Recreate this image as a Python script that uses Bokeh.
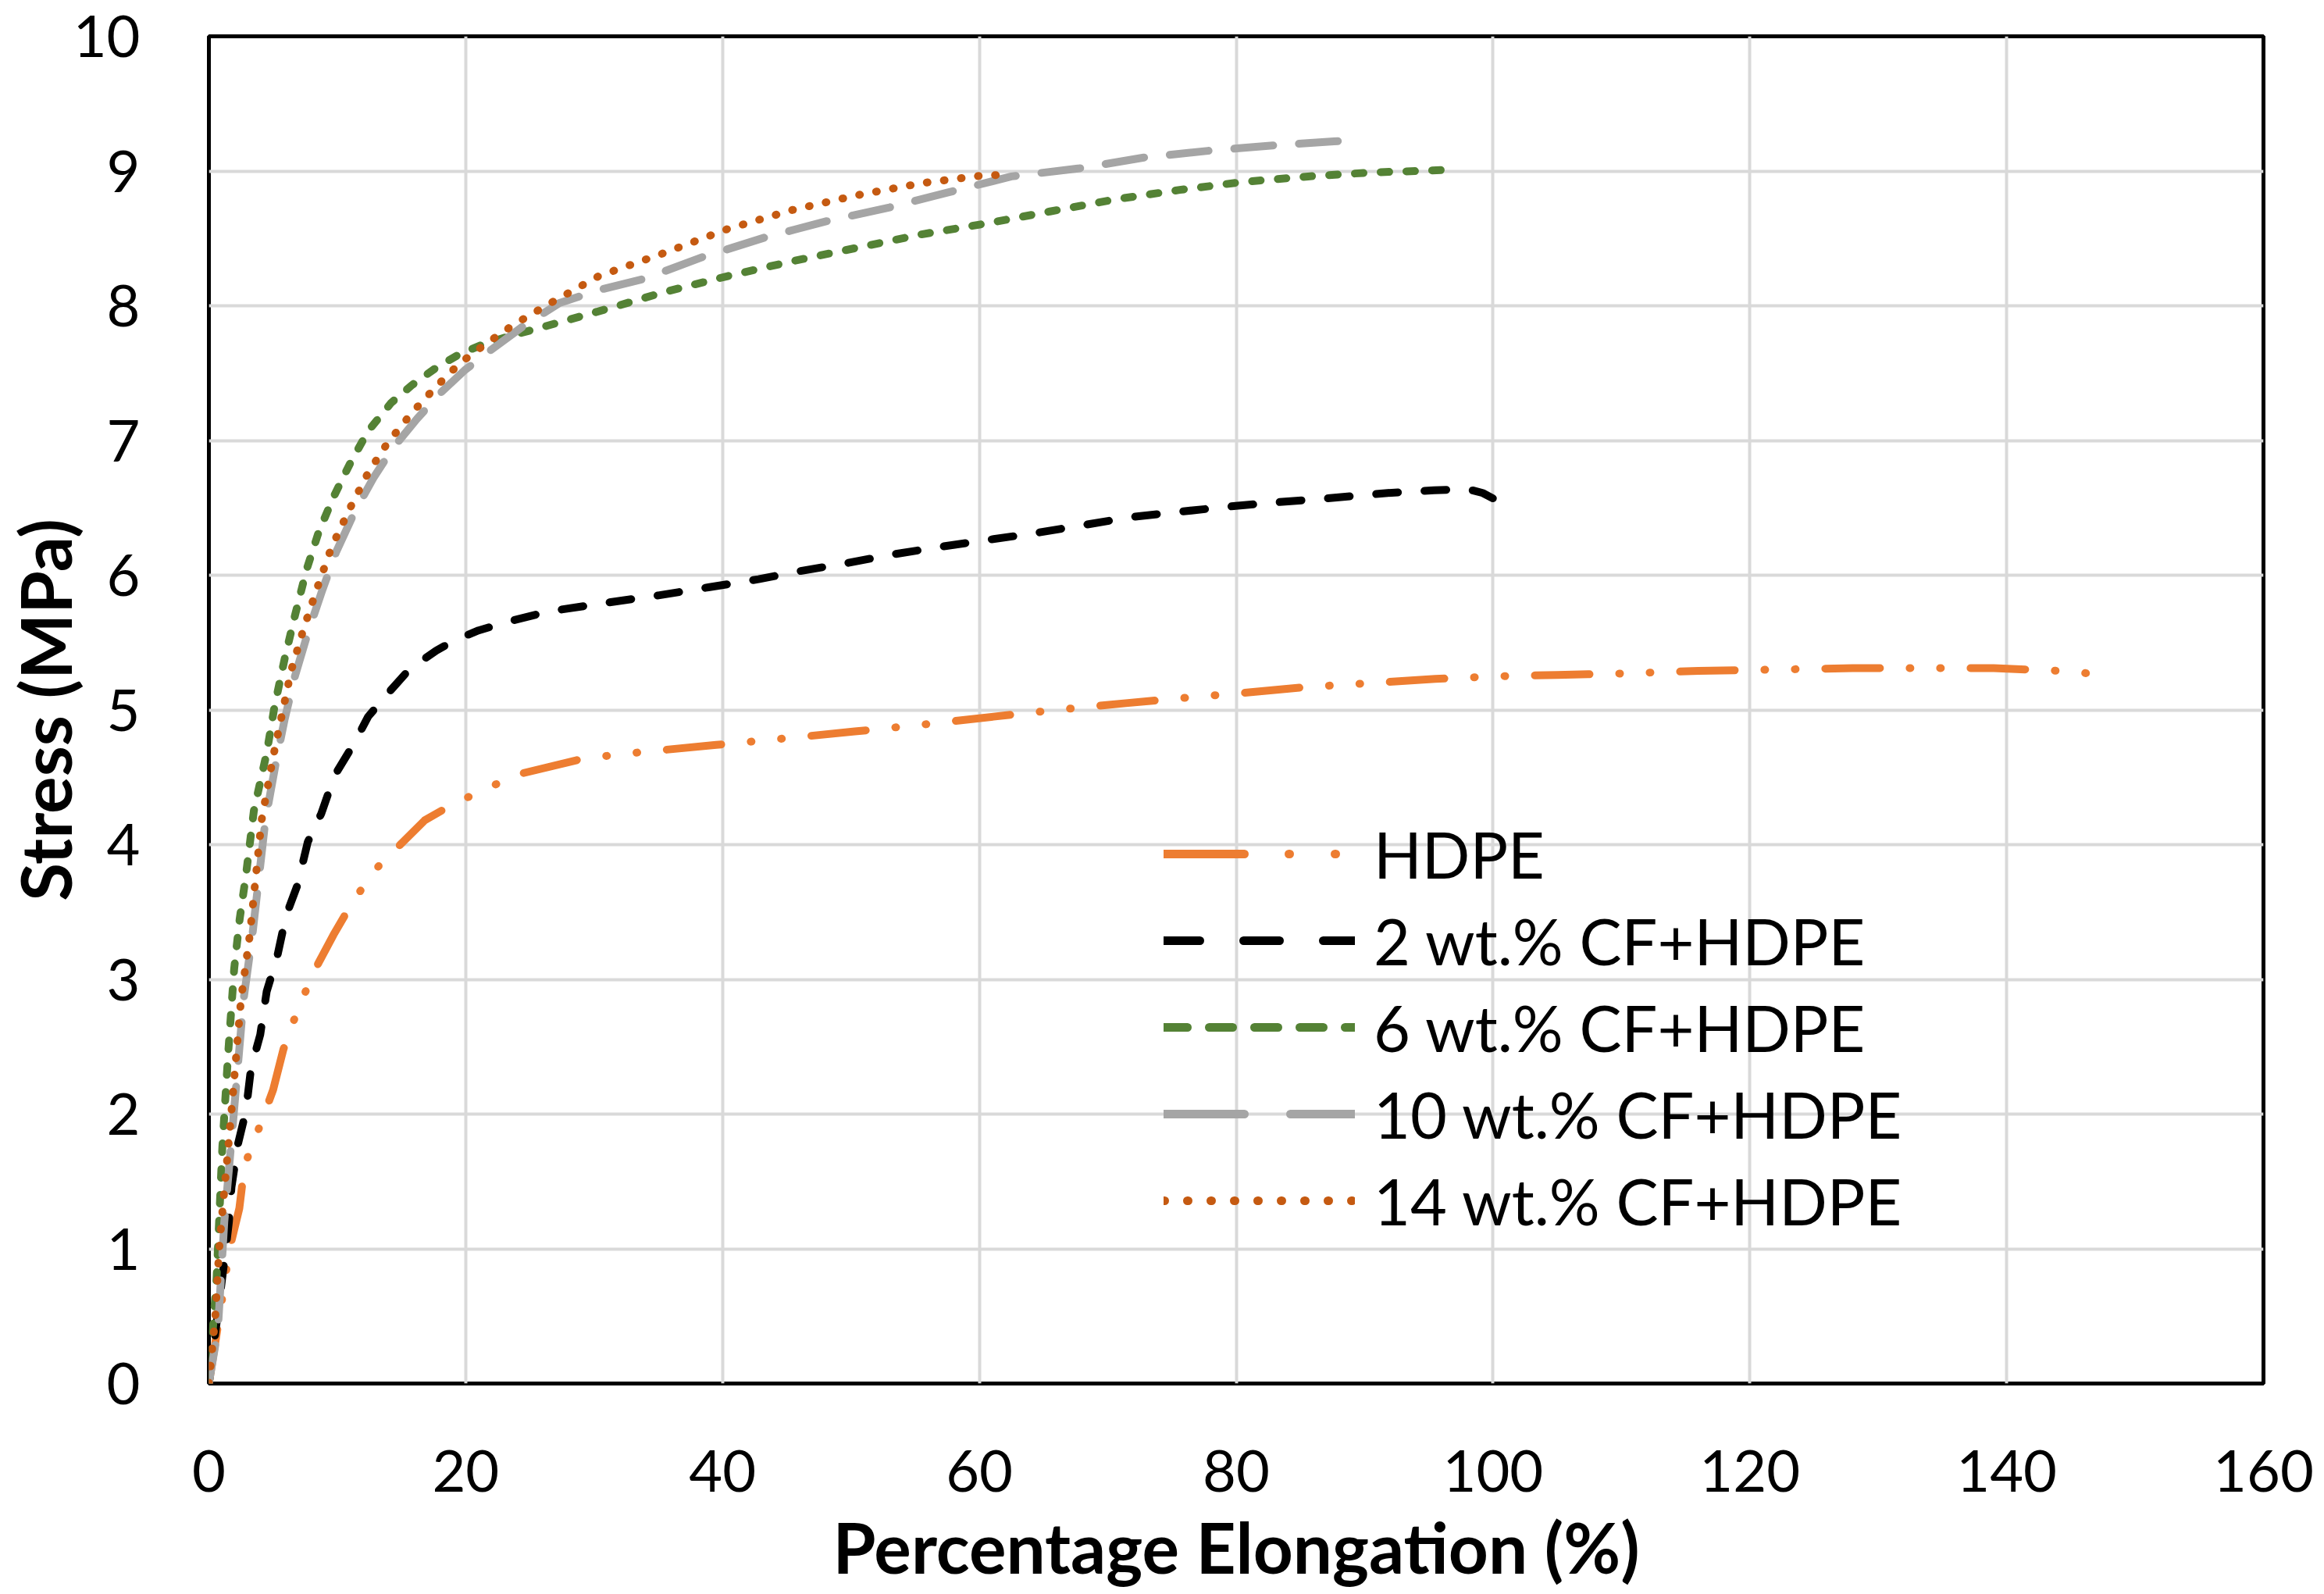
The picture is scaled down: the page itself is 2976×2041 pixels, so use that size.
from bokeh.plotting import figure
from bokeh.models import Range1d, FixedTicker, Legend, LegendItem
from bokeh.embed import file_html
from bokeh.resources import INLINE

# ---------------- data ----------------
x_ticks = [0, 20, 40, 60, 80, 100, 120, 140, 160]
y_ticks = [0, 1, 2, 3, 4, 5, 6, 7, 8, 9, 10]

series_names = ["HDPE", "2 wt.% CF+HDPE", "6 wt.% CF+HDPE",
                "10 wt.% CF+HDPE", "14 wt.% CF+HDPE"]

hdpe_x = [0, 1.05, 1.56, 2.37, 2.78, 4.0, 5.0, 5.8, 6.9, 8.25, 9.7, 11.1, 12.9,
          14.9, 16.8, 18.8, 20.8, 24, 29.2, 34, 39.5, 45, 50.3, 55.5, 61.1, 66,
          71.4, 76, 81.0, 85.5, 90.6, 95.5, 100.5, 105, 110.0, 116, 122.3, 128,
          133.7, 139, 144.2, 146.5, 147.8]
hdpe_y = [0, 0.64, 0.98, 1.30, 1.62, 1.92, 2.18, 2.48, 2.77, 3.07, 3.33, 3.56, 3.81,
          4.0, 4.18, 4.29, 4.38, 4.52, 4.64, 4.69, 4.74, 4.79, 4.84, 4.89, 4.95, 5.0,
          5.05, 5.09, 5.13, 5.17, 5.20, 5.23, 5.25, 5.26, 5.27, 5.29, 5.30, 5.31,
          5.31, 5.31, 5.29, 5.27, 5.24]

cf2_x = [0, 0.4, 0.85, 1.15, 1.56, 1.76, 2.27, 2.88, 3.28, 4.0, 4.5, 5.3, 6.0, 6.9,
         7.7, 8.75, 9.77, 11.3, 12.4, 14.1, 15.6, 17.7, 19.2, 21.0, 23.5, 26.4,
         31.3, 35, 38.9, 42.8, 46, 49.7, 53, 56.9, 60.5, 64.2, 68, 71.7, 75.5,
         79.5, 83, 87.0, 91.8, 95.4, 98.0, 99.2, 100.0]
cf2_y = [0, 0.3, 0.64, 0.87, 1.2, 1.46, 1.78, 2.02, 2.34, 2.59, 2.91, 3.16, 3.47, 3.70,
         4.02, 4.23, 4.51, 4.75, 4.95, 5.14, 5.30, 5.44, 5.52, 5.59, 5.66, 5.73,
         5.80, 5.85, 5.91, 5.97, 6.03, 6.09, 6.15, 6.21, 6.26, 6.31, 6.37, 6.43, 6.47,
         6.51, 6.54, 6.57, 6.61, 6.63, 6.64, 6.61, 6.57]

cf6_x = [0, 0.6, 1.05, 1.5, 1.97, 2.4, 2.88, 3.5, 4.5, 5.1, 5.9, 6.7, 7.6, 8.55, 9.7,
         11.0, 12.4, 14.2, 15.8, 17.7, 19.5, 21.5, 24, 27.8, 31.5, 35.4, 40.4, 45.4,
         50.45, 55.5, 60.5, 65.5, 70.6, 75.6, 80.6, 85.6, 90.6, 94, 96.7]
cf6_y = [0, 0.78, 1.76, 2.45, 3.08, 3.45, 3.77, 4.25, 4.68, 5.02, 5.38, 5.70, 6.04,
         6.32, 6.58, 6.83, 7.07, 7.28, 7.41, 7.54, 7.64, 7.72, 7.79, 7.89, 7.99, 8.10,
         8.22, 8.33, 8.43, 8.53, 8.61, 8.70, 8.79, 8.86, 8.92, 8.96, 8.99, 9.0, 9.01]

cf10_x = [0, 0.7, 1.2, 1.8, 2.7, 3.4, 4.4, 5.2, 5.9, 6.7, 7.7, 8.8, 9.9, 11.3, 12.8,
          14.3, 16.2, 18.0, 19.9, 21.8, 24.5, 27.3, 30.5, 33.9, 38.4, 43.4, 48.2,
          53.0, 57.5, 62.5, 67.8, 72.8, 77.8, 82.85, 87.6, 89.1]
cf10_y = [0, 0.4, 1.2, 1.85, 2.85, 3.34, 4.18, 4.6, 4.93, 5.25, 5.57, 5.88, 6.17,
          6.46, 6.72, 6.94, 7.16, 7.35, 7.52, 7.66, 7.85, 8.02, 8.12, 8.20, 8.36,
          8.51, 8.63, 8.73, 8.84, 8.96, 9.02, 9.10, 9.15, 9.19, 9.22, 9.23]

cf14_x = [0, 0.5, 0.8, 1.1, 1.6, 2.5, 3.2, 4.1, 5.0, 5.7, 6.4, 7.4, 8.45, 9.56, 11.0,
          12.4, 13.9, 15.85, 17.7, 19.5, 21.6, 23.75, 26.6, 30.35, 35.4, 40.4,
          45.4, 50.45, 55.5, 60.5, 61.5]
cf14_y = [0, 0.5, 1.0, 1.33, 1.85, 2.85, 3.34, 4.18, 4.65, 4.97, 5.29, 5.61, 5.91,
          6.21, 6.50, 6.76, 6.98, 7.21, 7.40, 7.57, 7.72, 7.86, 8.02, 8.22, 8.39,
          8.57, 8.71, 8.82, 8.91, 8.97, 8.97]

# ---------------- styles ----------------
colors = ["#ED7D31", "#000000", "#548235", "#A5A5A5", "#C55A11"]
curve_dash = ["70 38 1 38 1 38", "28 34", "11 22", "50 33", "1 21"]
legend_dash = ["103 57 1 58 1 60", "46 56", "30 28", "103 59", "1 29"]
LW = 10
FONT = "Lato"

p = figure(width=2968, height=2036, output_backend="svg", toolbar_location=None,
           x_range=Range1d(0, 160), y_range=Range1d(0, 10),
           min_border_left=266, min_border_right=70,
           min_border_top=46, min_border_bottom=264)
p.background_fill_color = "white"
p.border_fill_color = "white"
p.outline_line_color = "black"
p.outline_line_width = 5

for ax, ticks in ((p.xaxis, x_ticks), (p.yaxis, y_ticks)):
    ax.ticker = FixedTicker(ticks=ticks)
    ax.axis_line_color = None
    ax.major_tick_line_color = None
    ax.minor_tick_line_color = None
    ax.major_label_text_font = FONT
    ax.major_label_text_font_size = "74px"
    ax.major_label_text_color = "black"
    ax.axis_label_text_font = FONT
    ax.axis_label_text_font_style = "bold"
    ax.axis_label_text_font_size = "89px"
    ax.axis_label_text_color = "black"

p.xaxis.axis_label = "Percentage Elongation (%)"
p.yaxis.axis_label = "Stress (MPa)"
p.xaxis.major_label_standoff = 79
p.xaxis.axis_label_standoff = 14
p.yaxis.major_label_standoff = 82
p.yaxis.axis_label_standoff = -20

for g in (p.xgrid, p.ygrid):
    g.grid_line_color = "#D9D9D9"
    g.grid_line_width = 4

all_x = [hdpe_x, cf2_x, cf6_x, cf10_x, cf14_x]
all_y = [hdpe_y, cf2_y, cf6_y, cf10_y, cf14_y]

nan = float("nan")
items = []
for name, xs, ys, c, cd, ld in zip(series_names, all_x, all_y, colors, curve_dash, legend_dash):
    p.line(xs, ys, line_color=c, line_width=LW, line_dash=cd,
           line_cap="round", line_join="round")
    # legend-only renderer (nothing drawn in the plot) with the legend's own dash pattern
    dummy = p.line([nan], [nan], line_color=c, line_width=LW + 1, line_dash=ld,
                   line_cap="round")
    items.append(LegendItem(label=name, renderers=[dummy]))

legend = Legend(items=items, location=(1223, 184), orientation="vertical",
                glyph_width=245, glyph_height=100, label_height=100,
                label_standoff=24, spacing=11, padding=0, margin=0,
                border_line_color=None, background_fill_alpha=0,
                label_text_font=FONT, label_text_font_size="81px",
                label_text_color="black", label_text_baseline="middle")
p.add_layout(legend)

open("out.html", "w").write(file_html(p, INLINE))
